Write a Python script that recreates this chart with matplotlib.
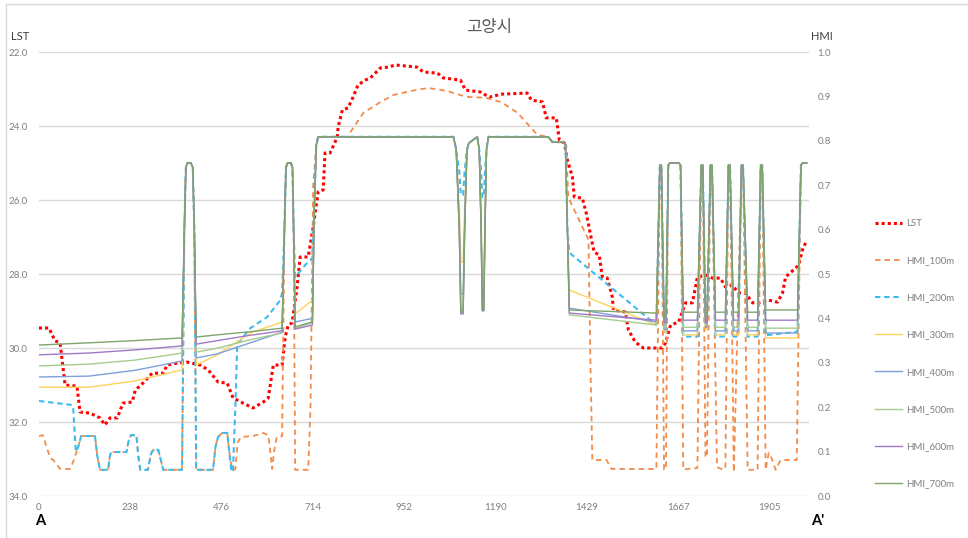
import matplotlib
matplotlib.use("Agg")
import matplotlib.pyplot as plt
from matplotlib.patches import Rectangle

# ---------------- data ----------------
x_ticks = [0, 238.125, 476.25, 714.375, 952.5, 1190.625, 1428.75, 1666.875, 1905]
x_tick_labels = ["0", "238", "476", "714", "952", "1190", "1429", "1667", "1905"]
lst_ticks = [22, 24, 26, 28, 30, 32, 34]
hmi_ticks = [0.0, 0.1, 0.2, 0.3, 0.4, 0.5, 0.6, 0.7, 0.8, 0.9, 1.0]

LST_x = [0, 26, 42, 55, 68, 99, 107, 133, 159, 172, 185, 204, 219, 243, 251, 271, 295, 324, 334, 360,
         386, 420, 441, 467, 491, 506, 532, 558, 585, 598, 611, 634, 642, 650, 660, 673, 681, 702, 715, 728,
         741, 746, 759, 778, 780, 791, 806, 819, 832, 851, 864, 877, 890, 911, 929, 986, 1002, 1039, 1054, 1099,
         1112, 1151, 1174, 1206, 1273, 1284, 1313, 1323, 1349, 1357, 1370, 1378, 1391, 1396, 1417, 1427, 1441, 1448, 1461, 1469,
         1482, 1495, 1498, 1529, 1537, 1555, 1576, 1626, 1634, 1647, 1668, 1686, 1704, 1717, 1743, 1756, 1777, 1790, 1808, 1824,
         1842, 1861, 1876, 1900, 1926, 1939, 1947, 1973, 1981, 1991, 1999]
LST_y = [29.46, 29.46, 29.81, 29.86, 31.0, 31.03, 31.73, 31.76, 31.89, 32.08, 31.89, 31.89, 31.49, 31.46, 31.14, 30.95, 30.68, 30.68, 30.46, 30.41,
         30.38, 30.46, 30.59, 30.92, 30.95, 31.35, 31.49, 31.62, 31.46, 31.35, 30.46, 30.46, 29.70, 29.38, 29.32, 28.35, 27.54, 27.54, 26.73, 25.78,
         25.73, 24.73, 24.73, 24.30, 24.03, 23.57, 23.51, 23.22, 22.89, 22.76, 22.70, 22.57, 22.43, 22.41, 22.35, 22.41, 22.54, 22.57, 22.70, 22.76,
         23.03, 23.08, 23.22, 23.14, 23.11, 23.30, 23.35, 23.78, 23.78, 24.38, 24.46, 24.92, 25.38, 25.92, 25.95, 26.35, 27.08, 27.41, 27.49, 28.08,
         28.11, 28.62, 28.97, 29.03, 29.51, 29.84, 30.0, 30.0, 29.86, 29.38, 29.30, 28.78, 28.78, 28.08, 28.03, 28.11, 28.11, 28.35, 28.30, 28.51,
         28.51, 28.78, 28.78, 28.70, 28.76, 28.51, 28.08, 27.84, 27.76, 27.35, 27.16]

HMI100_x = [0, 10, 29, 37, 55, 81, 89, 102, 110, 146, 152, 159, 180, 186, 192, 228, 234, 240, 254, 259, 264, 284, 292, 298, 311, 318, 324,
            373, 379, 383, 387, 396, 401, 405, 410,
            454, 460, 467, 478, 491, 496, 504, 512, 518, 526, 558, 585, 598, 603, 608, 613, 620, 634,
            640, 644, 648, 657, 661, 664, 668,
            702, 708, 715, 723, 728,
            804, 846, 890, 924, 968, 1015, 1065, 1114, 1164, 1206, 1248, 1300, 1328, 1339, 1368, 1375, 1380, 1433, 1438, 1443, 1480, 1493, 1610,
            1619, 1623, 1630, 1635, 1641, 1645, 1669, 1673, 1680, 1717, 1727, 1731, 1738, 1742, 1751, 1755, 1768, 1785, 1790, 1798, 1802, 1812,
            1832, 1836, 1848, 1874, 1882, 1886, 1895, 1903, 1910, 1921, 1934, 1976, 1987, 1991, 2002]
HMI100_y = [0.135, 0.137, 0.086, 0.081, 0.061, 0.061, 0.077, 0.11, 0.135, 0.135, 0.09, 0.059, 0.059, 0.095, 0.099, 0.099, 0.125, 0.137, 0.137, 0.09, 0.059, 0.059, 0.095, 0.104, 0.104, 0.08, 0.059,
            0.059, 0.6, 0.74, 0.75, 0.75, 0.74, 0.6, 0.059,
            0.059, 0.11, 0.133, 0.142, 0.142, 0.10, 0.059, 0.06, 0.12, 0.133, 0.135, 0.142, 0.137, 0.10, 0.061, 0.10, 0.133, 0.135,
            0.6, 0.74, 0.75, 0.75, 0.74, 0.6, 0.059,
            0.059, 0.2, 0.7, 0.79, 0.809,
            0.809, 0.863, 0.887, 0.903, 0.912, 0.919, 0.912, 0.899, 0.897, 0.887, 0.863, 0.813, 0.809, 0.797, 0.797, 0.79, 0.673, 0.577, 0.3, 0.081, 0.081, 0.061, 0.061,
            0.745, 0.745, 0.06, 0.06, 0.745, 0.75, 0.75, 0.745, 0.06, 0.063, 0.745, 0.745, 0.088, 0.088, 0.745, 0.745, 0.065, 0.059, 0.063, 0.745, 0.745, 0.054,
            0.745, 0.745, 0.059, 0.059, 0.745, 0.745, 0.059, 0.097, 0.086, 0.059, 0.081, 0.081, 0.745, 0.75, 0.75]

# shared breakpoints (middle plateau and right part)
X_MID = [1081, 1088, 1096, 1100, 1106, 1110, 1116, 1121, 1143, 1148, 1153, 1156, 1160, 1163, 1167, 1172, 1328, 1339, 1368, 1373, 1378]
X_RIGHT = [1383, 1610, 1619, 1623, 1630, 1635, 1641, 1645, 1669, 1673, 1680, 1717, 1727, 1731, 1738, 1742, 1751, 1755, 1764, 1790,
           1798, 1802, 1811, 1824, 1832, 1836, 1848, 1874, 1882, 1886, 1895, 1978, 1987, 1991, 2002]

HMI200_x_left = [0, 86, 89, 96, 102, 110, 146, 152, 159, 180, 186, 192, 228, 234, 240, 254, 259, 264, 284, 292, 298, 311, 318, 324,
                 373, 379, 383, 387, 396, 401, 405, 410,
                 454, 460, 467, 478, 491, 496, 502, 506, 512, 517, 525, 551, 595, 629, 634,
                 640, 644, 648, 657, 661, 664, 668, 694, 713, 718, 723, 728]
HMI200_y = [0.214, 0.205, 0.20, 0.10, 0.11, 0.135, 0.135, 0.09, 0.059, 0.059, 0.095, 0.099, 0.099, 0.125, 0.137, 0.137, 0.09, 0.059, 0.059, 0.095, 0.104, 0.104, 0.08, 0.059,
            0.059, 0.6, 0.74, 0.75, 0.75, 0.74, 0.6, 0.059,
            0.059, 0.11, 0.133, 0.142, 0.142, 0.10, 0.054, 0.06, 0.2, 0.345, 0.35, 0.378, 0.403, 0.441, 0.457,
            0.6, 0.74, 0.75, 0.75, 0.74, 0.6, 0.493, 0.520, 0.536, 0.65, 0.79, 0.809,
            # middle
            0.809, 0.78, 0.73, 0.678, 0.678, 0.73, 0.78, 0.795, 0.809, 0.78, 0.73, 0.673, 0.673, 0.73, 0.78, 0.809, 0.809, 0.797, 0.797, 0.79, 0.6,
            # right
            0.548, 0.385, 0.745, 0.745, 0.37, 0.37, 0.745, 0.75, 0.75, 0.745, 0.359, 0.359, 0.745, 0.745, 0.40, 0.40, 0.745, 0.745, 0.359, 0.359,
            0.745, 0.745, 0.359, 0.359, 0.745, 0.745, 0.359, 0.359, 0.745, 0.745, 0.362, 0.370, 0.745, 0.75, 0.75]

X_LEFT = [0, 130, 250, 373, 379, 383, 387, 396, 401, 405, 410, 465, 551, 634, 640, 644, 648, 657, 661, 664, 668, 713, 718, 723, 728]

HMI300_y = [0.245, 0.245, 0.259, 0.284, 0.6, 0.74, 0.75, 0.75, 0.74, 0.6, 0.295, 0.318, 0.367, 0.392, 0.6, 0.74, 0.75, 0.75, 0.74, 0.6, 0.410, 0.441, 0.65, 0.79, 0.809,
            0.809, 0.78, 0.65, 0.527, 0.527, 0.65, 0.78, 0.795, 0.809, 0.78, 0.64, 0.50, 0.50, 0.64, 0.78, 0.809, 0.809, 0.797, 0.797, 0.79, 0.6,
            0.464, 0.385, 0.745, 0.745, 0.37, 0.37, 0.745, 0.75, 0.75, 0.745, 0.363, 0.363, 0.745, 0.745, 0.375, 0.375, 0.745, 0.745, 0.363, 0.363,
            0.745, 0.745, 0.363, 0.363, 0.745, 0.745, 0.363, 0.363, 0.745, 0.745, 0.356, 0.356, 0.745, 0.75, 0.75]
HMI400_y = [0.268, 0.270, 0.283, 0.304, 0.6, 0.74, 0.75, 0.75, 0.74, 0.6, 0.311, 0.320, 0.345, 0.369, 0.6, 0.74, 0.75, 0.75, 0.74, 0.6, 0.392, 0.400, 0.65, 0.79, 0.809,
            0.809, 0.78, 0.62, 0.455, 0.455, 0.62, 0.78, 0.795, 0.809, 0.78, 0.61, 0.44, 0.44, 0.61, 0.78, 0.809, 0.809, 0.797, 0.797, 0.79, 0.6,
            0.423, 0.392, 0.745, 0.745, 0.375, 0.375, 0.745, 0.75, 0.75, 0.745, 0.372, 0.372, 0.745, 0.745, 0.38, 0.38, 0.745, 0.745, 0.372, 0.372,
            0.745, 0.745, 0.372, 0.372, 0.745, 0.745, 0.372, 0.372, 0.745, 0.745, 0.367, 0.367, 0.745, 0.75, 0.75]
HMI500_y = [0.293, 0.297, 0.306, 0.322, 0.6, 0.74, 0.75, 0.75, 0.74, 0.6, 0.324, 0.333, 0.352, 0.367, 0.6, 0.74, 0.75, 0.75, 0.74, 0.6, 0.378, 0.390, 0.65, 0.79, 0.809,
            0.809, 0.78, 0.6, 0.414, 0.414, 0.6, 0.78, 0.795, 0.809, 0.78, 0.6, 0.419, 0.419, 0.6, 0.78, 0.809, 0.809, 0.797, 0.797, 0.79, 0.6,
            0.408, 0.385, 0.745, 0.745, 0.38, 0.38, 0.745, 0.75, 0.75, 0.745, 0.38, 0.38, 0.745, 0.745, 0.385, 0.385, 0.745, 0.745, 0.38, 0.38,
            0.745, 0.745, 0.38, 0.38, 0.745, 0.745, 0.38, 0.38, 0.745, 0.745, 0.378, 0.378, 0.745, 0.75, 0.75]
HMI600_y = [0.318, 0.322, 0.329, 0.338, 0.6, 0.74, 0.75, 0.75, 0.74, 0.6, 0.342, 0.350, 0.362, 0.372, 0.6, 0.74, 0.75, 0.75, 0.74, 0.6, 0.376, 0.385, 0.65, 0.79, 0.809,
            0.809, 0.78, 0.6, 0.41, 0.41, 0.6, 0.78, 0.795, 0.809, 0.78, 0.6, 0.417, 0.417, 0.6, 0.78, 0.809, 0.809, 0.797, 0.797, 0.79, 0.6,
            0.412, 0.396, 0.745, 0.745, 0.39, 0.39, 0.745, 0.75, 0.75, 0.745, 0.396, 0.396, 0.745, 0.745, 0.39, 0.39, 0.745, 0.745, 0.396, 0.396,
            0.745, 0.745, 0.396, 0.396, 0.745, 0.745, 0.396, 0.396, 0.745, 0.745, 0.396, 0.396, 0.745, 0.75, 0.75]
HMI700_y = [0.340, 0.345, 0.350, 0.356, 0.6, 0.74, 0.75, 0.75, 0.74, 0.6, 0.358, 0.363, 0.370, 0.378, 0.6, 0.74, 0.75, 0.75, 0.74, 0.6, 0.381, 0.392, 0.65, 0.79, 0.809,
            0.809, 0.78, 0.6, 0.414, 0.414, 0.6, 0.78, 0.795, 0.809, 0.78, 0.6, 0.419, 0.419, 0.6, 0.78, 0.809, 0.809, 0.797, 0.797, 0.79, 0.6,
            0.419, 0.412, 0.745, 0.745, 0.40, 0.40, 0.745, 0.75, 0.75, 0.745, 0.414, 0.414, 0.745, 0.745, 0.405, 0.405, 0.745, 0.745, 0.414, 0.414,
            0.745, 0.745, 0.414, 0.414, 0.745, 0.745, 0.414, 0.414, 0.745, 0.745, 0.419, 0.419, 0.745, 0.75, 0.75]

series_names = ["HMI_100m", "HMI_200m", "HMI_300m", "HMI_400m", "HMI_500m", "HMI_600m", "HMI_700m"]

# ---------------- drawing ----------------
W, H = 968, 538
fig = plt.figure(figsize=(W / 100, H / 100), dpi=100)
fig.patch.set_facecolor("white")
FONT = ["Lato", "DejaVu Sans"]
KFONT = ["Noto Sans CJK KR", "DejaVu Sans"]
plt.rcParams["font.family"] = FONT

fig.patches.append(Rectangle((6 / W, -0.02), 1.1, (H - 4) / H + 0.02, transform=fig.transFigure,
                             fill=False, edgecolor="#D9D9D9", linewidth=1.0))

L, R, T, B = 39, 809, 52, 496
ax = fig.add_axes([L / W, 1 - B / H, (R - L) / W, (B - T) / H])
ax.set_xlim(0, 2008)
ax.set_ylim(34, 22)
ax.set_yticks(lst_ticks)
ax.set_yticklabels([f"{v:.1f}" for v in lst_ticks])
ax.set_xticks(x_ticks)
ax.set_xticklabels(x_tick_labels)
ax.grid(axis="y", color="#D9D9D9", linewidth=1.0)
ax.set_axisbelow(True)
for s in ax.spines.values():
    s.set_visible(False)
ax.tick_params(axis="y", length=0, labelsize=7, labelcolor="#7F7F7F", pad=8)
ax.tick_params(axis="x", length=0, labelsize=7, labelcolor="#7F7F7F", pad=5)

lst_line, = ax.plot(LST_x, LST_y, color="#FF0000", linewidth=2.2, linestyle=(0, (1, 1)), label="LST", zorder=3)

ax2 = ax.twinx()
ax2.set_ylim(0, 1.0)
ax2.set_yticks(hmi_ticks)
ax2.set_yticklabels([f"{v:.1f}" for v in hmi_ticks])
for s in ax2.spines.values():
    s.set_visible(False)
ax2.tick_params(axis="y", length=0, labelsize=7, labelcolor="#7F7F7F", pad=6)

colors = ["#F28C4B", "#3DBBEE", "#FFD25A", "#7E9FD9", "#A6CC8C", "#A07AC8", "#7DA56C"]
X_FULL = X_LEFT + X_MID + X_RIGHT
X200 = HMI200_x_left + X_MID + X_RIGHT
handles = [lst_line]
h, = ax2.plot(HMI100_x, HMI100_y, color=colors[0], linewidth=1.3, linestyle=(0, (3, 2.3)), label=series_names[0])
handles.append(h)
h, = ax2.plot(X200, HMI200_y, color=colors[1], linewidth=1.5, linestyle=(0, (2.6, 1.8)), label=series_names[1])
handles.append(h)
for name, ys, c in zip(series_names[2:], [HMI300_y, HMI400_y, HMI500_y, HMI600_y, HMI700_y], colors[2:]):
    h, = ax2.plot(X_FULL, ys, color=c, linewidth=1.0, label=name)
    handles.append(h)

leg = fig.legend(handles=handles, labels=[hh.get_label() for hh in handles],
                 loc="upper left", bbox_to_anchor=(875 / W, 1 - 219 / H),
                 frameon=False, fontsize=7, labelspacing=2.9, handlelength=2.8,
                 handletextpad=0.45, borderpad=0, borderaxespad=0)
for t in leg.get_texts():
    t.set_color("#7F7F7F")

fig.text(489 / W, 1 - 28 / H, "고양시", ha="center", va="center", fontsize=12,
         color="#595959", family=KFONT)
fig.text(20 / W, 1 - 36 / H, "LST", ha="center", va="center", fontsize=8, color="#404040")
fig.text(822 / W, 1 - 36 / H, "HMI", ha="center", va="center", fontsize=8, color="#404040")
fig.text(40 / W, 1 - 521 / H, "A", ha="center", va="center", fontsize=10.5, fontweight="bold", color="#000000")
fig.text(818 / W, 1 - 521 / H, "A'", ha="center", va="center", fontsize=10.5, fontweight="bold", color="#000000")

fig.savefig("out.png", dpi=100, facecolor="white")
